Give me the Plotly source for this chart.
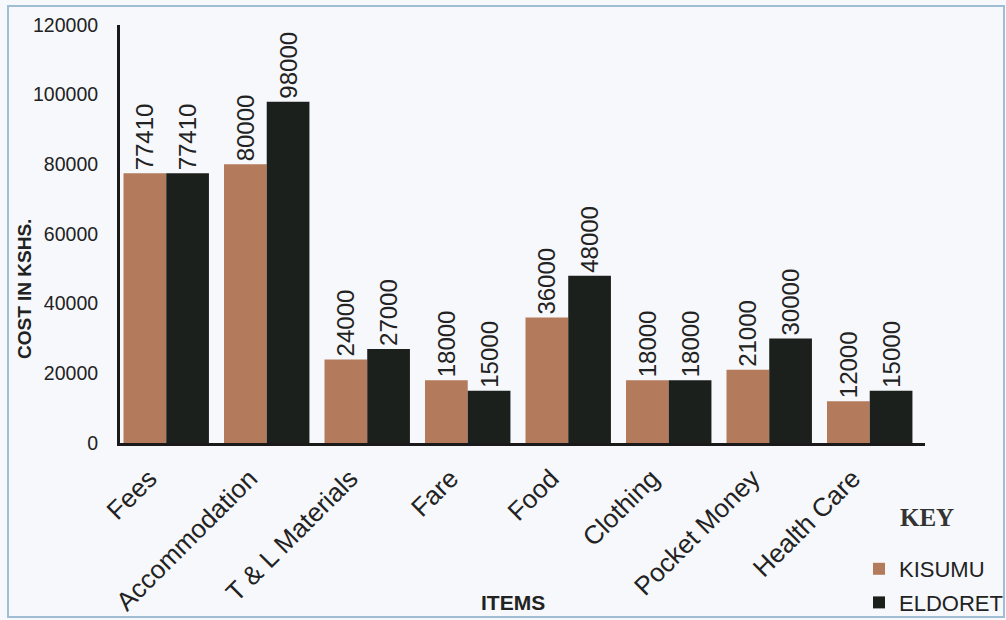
import plotly.graph_objects as go

items = ["Fees", "Accommodation", "T & L Materials", "Fare", "Food",
         "Clothing", "Pocket Money", "Health Care"]
kisumu = [77410, 80000, 24000, 18000, 36000, 18000, 21000, 12000]
eldoret = [77410, 98000, 27000, 15000, 48000, 18000, 30000, 15000]
y_ticks = [0, 20000, 40000, 60000, 80000, 100000, 120000]

W, H = 1006, 620
L, R, T, B = 120, 81, 25, 177
PW, PH = W - L - R, H - T - B


def px_x(x):
    return (x - L) / PW


def px_y(y):
    return (H - B - y) / PH


label_font = dict(family="Liberation Sans, Arial", size=24, color="#222")

fig = go.Figure()
fig.add_trace(go.Bar(
    x=items, y=kisumu, name="KISUMU", legendgroup="k",
    marker=dict(color="#b37a5c", line=dict(width=0)),
    text=[str(v) for v in kisumu], textposition="outside", textangle=-90,
    textfont=label_font, constraintext="none",
    cliponaxis=False,
))
fig.add_trace(go.Bar(
    x=items, y=eldoret, name="ELDORET", legendgroup="e",
    marker=dict(color="#1c201d", line=dict(width=0)),
    text=[str(v) for v in eldoret], textposition="outside", textangle=-90,
    textfont=label_font, constraintext="none",
    cliponaxis=False,
))

fig.update_layout(
    width=W, height=H,
    margin=dict(l=L, r=R, t=T, b=B, autoexpand=False),
    paper_bgcolor="#f6f8fb",
    plot_bgcolor="#f6f8fb",
    barmode="group",
    bargap=0.15,
    bargroupgap=0,
    font=dict(family="Liberation Sans, Arial", color="#222"),
    xaxis=dict(
        range=[-0.46, 7.55],
        tickangle=-45,
        tickfont=dict(size=26, color="#222"),
        ticklabelshift=-17,
        ticklabelstandoff=7,
        showline=True, linecolor="#1a1a1a", linewidth=3,
        ticks="", showgrid=False, zeroline=False,
        automargin=False,
    ),
    yaxis=dict(
        range=[0, 120000],
        tickvals=y_ticks,
        ticktext=[str(v) for v in y_ticks],
        tickfont=dict(size=19.5, color="#222"),
        showline=True, linecolor="#1a1a1a", linewidth=3,
        ticks="", showgrid=False, zeroline=False,
        ticklabelstandoff=15,
        automargin=False,
    ),
    legend=dict(
        xref="container", yref="container",
        x=859 / W, y=1 - 548 / H, xanchor="left", yanchor="top",
        font=dict(size=22, color="#222"),
        bgcolor="rgba(0,0,0,0)",
        itemwidth=30,
        traceorder="grouped",
        tracegroupgap=2,
    ),
    showlegend=True,
    annotations=[
        dict(text="<b>ITEMS</b>", xref="paper", yref="paper",
             x=px_x(513), y=px_y(602),
             showarrow=False, font=dict(size=21, color="#222"),
             xanchor="center", yanchor="middle"),
        dict(text="<b>COST IN KSHS.</b>", xref="paper", yref="paper",
             x=px_x(24), y=px_y(289), textangle=-90,
             showarrow=False, font=dict(size=19, color="#222"),
             xanchor="center", yanchor="middle"),
        dict(text="<b>KEY</b>", xref="paper", yref="paper",
             x=px_x(927), y=px_y(517),
             showarrow=False,
             font=dict(size=25, color="#333", family="Liberation Serif, Times New Roman"),
             xanchor="center", yanchor="middle"),
    ],
    shapes=[
        dict(type="rect", xref="paper", yref="paper",
             x0=px_x(8), x1=px_x(1004),
             y0=px_y(617), y1=px_y(6),
             line=dict(color="#9fbdd3", width=2), layer="below"),
    ],
)

fig.write_html("out.html")
